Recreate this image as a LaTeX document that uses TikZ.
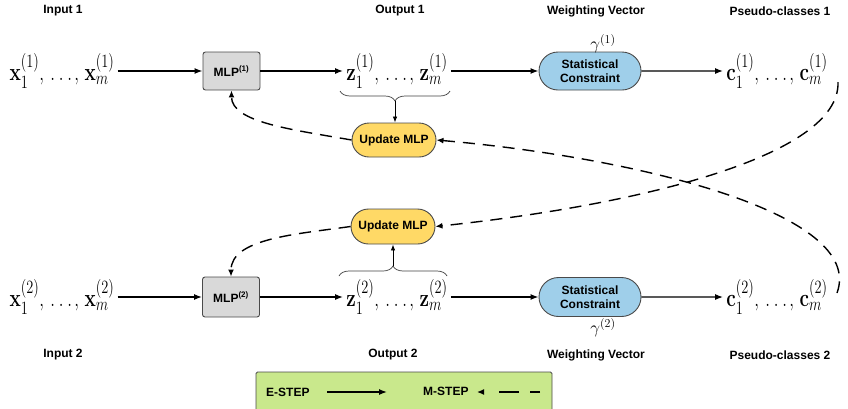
\documentclass[tikz,border=0pt]{standalone}
\usepackage[no-math]{fontspec}
\usepackage{graphicx}
\usepackage{amsmath}
\newfontfamily\labfont{Liberation Sans}
\usetikzlibrary{arrows.meta,decorations.pathreplacing,shapes.misc}

\definecolor{mlpgray}{HTML}{D9D9D9}
\definecolor{updyellow}{HTML}{FFD966}
\definecolor{statblue}{HTML}{9FCFEA}
\definecolor{legendgreen}{HTML}{C9E88C}
\definecolor{edgegray}{HTML}{4A4A4A}

% a run of vectors v_1^{(k)}, ..., v_m^{(k)} with airy dots
\newcommand\bvec[1]{\text{\bfseries #1}}
\newcommand\vecrun[2]{\scalebox{1}[1.3]{$\bvec{#1}_1^{(#2)},\mkern3.5mu.\mkern4mu.\mkern4mu.\mkern2.5mu,\mkern2.7mu\bvec{#1}_m^{(#2)}$}}

\tikzset{
  lab/.style={font=\labfont\bfseries\fontsize{12}{14}\selectfont, inner sep=0pt},
  vecs/.style={font=\fontsize{19}{21}\selectfont, inner sep=3pt},
  mlpbox/.style={draw=edgegray, line width=0.9pt, fill=mlpgray, rounded corners=2.5pt,
    minimum width=57pt, minimum height=38pt, inner sep=0pt,
    font=\labfont\bfseries\fontsize{12}{14}\selectfont},
  updbox/.style={draw=edgegray, line width=0.9pt, fill=updyellow, rounded rectangle,
    minimum width=84pt, minimum height=34pt, inner sep=0pt,
    font=\labfont\bfseries\fontsize{12}{14}\selectfont},
  statbox/.style={draw=edgegray, line width=0.9pt, fill=statblue, rounded rectangle,
    minimum width=102pt, minimum height=38pt, inner sep=0pt, align=center,
    font=\labfont\bfseries\fontsize{12}{14.5}\selectfont},
  estep/.style={line width=1.4pt, -{Latex[length=8pt,width=6pt]}},
  mstep/.style={line width=1.4pt, dash pattern=on 12pt off 8pt, -{Latex[length=7pt,width=6pt]}},
  bracefine/.style={draw=black!75, line width=0.7pt, decorate,
    decoration={brace, amplitude=10pt}},
  bracearrow/.style={line width=0.8pt, -{Latex[length=6pt,width=4.5pt]}},
  gam/.style={font=\fontsize{18}{20}\selectfont, inner sep=0pt}
}

\begin{document}
\begin{tikzpicture}[x=1pt, y=-1pt]
\useasboundingbox (0,0) rectangle (848,408);

% column headings
\node[lab] (in1)  at (63,11)  {Input 1};
\node[lab] (out1) at (400,11) {Output 1};
\node[lab] (wv1)  at (596,11) {Weighting Vector};
\node[lab] (pc1)  at (780,11) {Pseudo-classes 1};
\node[lab] (in2)  at (63,355)  {Input 2};
\node[lab] (out2) at (393,355) {Output 2};
\node[lab] (wv2)  at (596,355) {Weighting Vector};
\node[lab] (pc2)  at (780,355) {Pseudo-classes 2};

% first view
\node[vecs] (x1) at (62,71) {\vecrun{x}{1}};
\node[mlpbox] (mlp1) at (231.5,71) {MLP\textsuperscript{(1)}};
\node[vecs] (z1) at (397,71) {\vecrun{z}{1}};
\node[statbox] (sc1) at (590,71) {Statistical\\Constraint};
\node[vecs] (c1) at (777,71) {\vecrun{c}{1}};
\node[gam, anchor=south] (g1) at (603,53) {$\gamma^{(1)}$};
\node[updbox] (up1) at (394,140) {Update MLP};

% second view
\node[vecs] (x2) at (62,297) {\vecrun{x}{2}};
\node[mlpbox, minimum height=40pt] (mlp2) at (231,297) {MLP\textsuperscript{(2)}};
\node[vecs] (z2) at (397,297) {\vecrun{z}{2}};
\node[statbox, minimum height=39pt] (sc2) at (590,297) {Statistical\\Constraint};
\node[vecs] (c2) at (777,297) {\vecrun{c}{2}};
\node[gam, anchor=north] (g2) at (603,318) {$\gamma^{(2)}$};
\node[updbox, minimum height=35pt] (up2) at (393,226.5) {Update MLP};

% E-step: forward passes
\draw[estep] (x1) -- (mlp1);
\draw[estep] (mlp1) -- (z1);
\draw[estep] (z1) -- (sc1);
\draw[estep] (sc1) -- (c1);
\draw[estep] (x2) -- (mlp2);
\draw[estep] (mlp2) -- (z2);
\draw[estep] (z2) -- (sc2);
\draw[estep] (sc2) -- (c2);

% braces gathering the outputs
\coordinate (b1l) at (340,91);
\coordinate (b1r) at (450,91);
\coordinate (b1t) at (395,101);
\draw[bracefine] (b1r) -- (b1l);
\draw[bracearrow] (b1t) -- (b1t |- up1.north);
\coordinate (b2l) at (339,276);
\coordinate (b2r) at (447,276);
\coordinate (b2t) at (393,266);
\draw[bracefine] (b2l) -- (b2r);
\draw[bracearrow] (b2t) -- (b2t |- up2.south);

% M-step: pseudo-classes drive the other view's update
\coordinate (c1out) at (838,82);
\coordinate (c2out) at (837,293);
\draw[mstep] (up1.west) to[out=170, in=-90, out distance=60pt, in distance=32pt] (mlp1.south);
\draw[mstep] (up2.west) to[out=-172, in=90, out distance=55pt, in distance=38pt] (mlp2.north);
\draw[mstep] (c1out) to[out=-88, in=6, out distance=75pt, in distance=200pt] (up2.east);
\draw[mstep] (c2out) to[out=70, in=-5, out distance=85pt, in distance=200pt] (up1.east);

% legend
\draw[draw=edgegray, line width=0.9pt, fill=legendgreen, rounded corners=1.5pt] (256,372) rectangle (552,420);
\node[lab, anchor=west] (el) at (266,392) {E-STEP};
\node[lab, anchor=west] (ml) at (423,391) {M-STEP};
\coordinate (ea) at (327,392);
\coordinate (eb) at (387,392);
\coordinate (ma) at (540,392);
\coordinate (mb) at (477,392);
\draw[line width=1.3pt, -{Latex[length=8pt,width=6pt]}] (ea) -- (eb);
\draw[line width=1.3pt, dash pattern=on 10pt off 11pt on 20pt off 20pt, -{Latex[length=7pt,width=6pt]}] (ma) -- (mb);
\end{tikzpicture}
\end{document}
